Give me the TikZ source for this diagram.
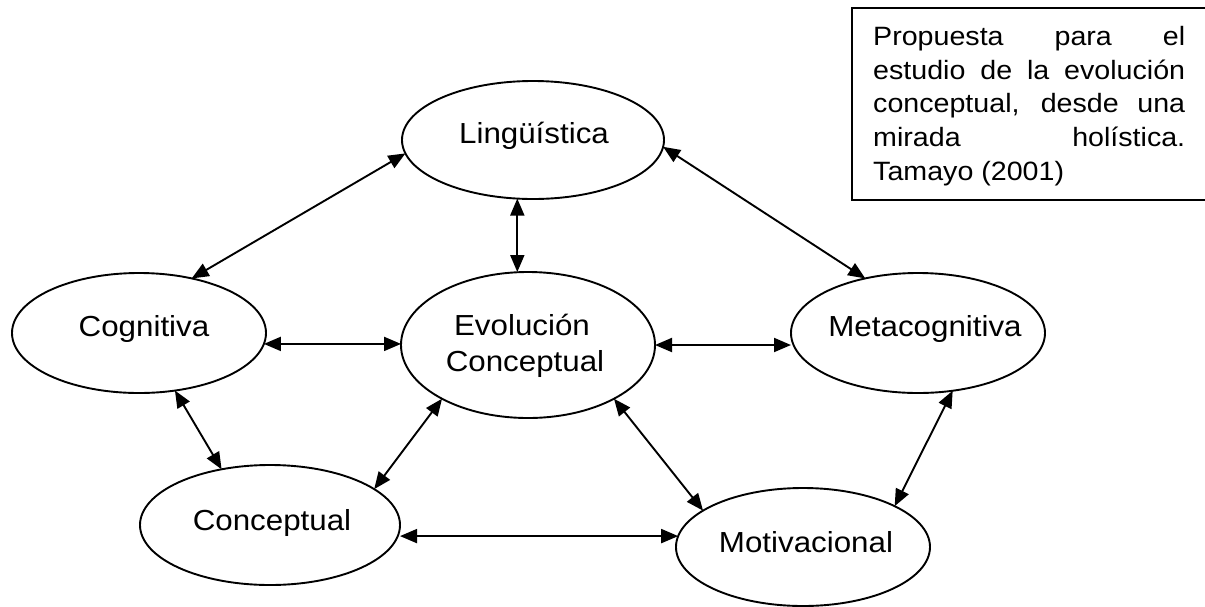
\documentclass[tikz,border=0pt]{standalone}
\usepackage{fontspec}
\setmainfont{Liberation Sans}[FakeStretch=1.08]
\usetikzlibrary{shapes.geometric,arrows.meta}
\begin{document}
\begin{tikzpicture}[x=1pt,y=-1pt,
  aspect/.style={draw, line width=1.9pt, ellipse, inner sep=0pt, outer sep=0pt},
  lbl/.style={font=\fontsize{29}{36}\selectfont, inner sep=0pt, anchor=base},
  link/.style={line width=1.9pt,
    {Triangle[length=17pt,width=14pt]}-{Triangle[length=17pt,width=14pt]}}]
\useasboundingbox (0,0) rectangle (1205,606);
\fill[white] (0,0) rectangle (1205,606);

% the six dimensions
\node[aspect, minimum width=262pt, minimum height=118pt] (ling) at (533,140) {};
\node[aspect, minimum width=254pt, minimum height=120pt] (cog)  at (139,333) {};
\node[aspect, minimum width=254pt, minimum height=146pt] (evo)  at (528,345) {};
\node[aspect, minimum width=254pt, minimum height=120pt] (meta) at (918,333) {};
\node[aspect, minimum width=260pt, minimum height=120pt] (conc) at (270,525) {};
\node[aspect, minimum width=254pt, minimum height=118pt] (mot)  at (803,547) {};

\node[lbl] (lingtxt)  at (534,143) {Lingüística};
\node[lbl] (cogtxt)   at (144,336) {Cognitiva};
\node[lbl] (evotxta)  at (522,335) {Evolución};
\node[lbl] (evotxtb)  at (525,371) {Conceptual};
\node[lbl] (metatxt)  at (925,336) {Metacognitiva};
\node[lbl] (conctxt)  at (272,530) {Conceptual};
\node[lbl] (mottxt)   at (806,552) {Motivacional};

% two-way relations
\draw[link] (ling.186) -- (cog.46);
\draw[link] (ling.255) -- (ling.255 |- evo.north);
\draw[link] (ling.-3) -- (meta.134);
\draw[link] (cog.-5.5) -- (cog.-5.5 -| evo.west);
\draw[link] (evo.east) -- (evo.east -| meta.west);
\draw[link] (cog.-58) -- (conc.131);
\draw[link] (evo.212) -- (conc.19);
\draw[link] (evo.-32) -- (mot.160.6);
\draw[link] (meta.-59.6) -- (mot.24);
\draw[link] (conc.east |- mot.175) -- (mot.175);

% caption box
\node[draw, rectangle, line width=1.9pt, inner sep=0pt, outer sep=0pt,
      minimum width=380pt, minimum height=192pt, anchor=north west] (notebox) at (852,8) {};
\node[anchor=north west, inner sep=0pt, text width=312pt, align=justify,
      font=\fontsize{26.5}{33.75}\selectfont] (note) at (873,26)
  {\tolerance=10000\hyphenpenalty=10000
   Propuesta para el\linebreak estudio de la evolución\linebreak
   conceptual, desde una\linebreak mirada holística.\linebreak
   Tamayo (2001)};
\end{tikzpicture}
\end{document}
